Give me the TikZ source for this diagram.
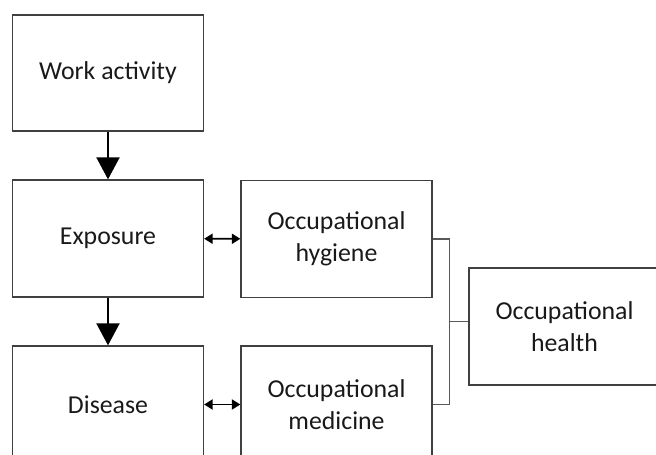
\documentclass[tikz,border=0pt]{standalone}
\usepackage{fontspec}
\setmainfont{Carlito}
\usetikzlibrary{arrows.meta,positioning,calc}
\tikzset{
  stage/.style={draw=black!75,line width=1.3pt,minimum width=191pt,minimum height=116pt,
    inner sep=0pt,align=center,font=\fontsize{25.8}{31.5}\selectfont,text=black!90},
  flow/.style={line width=2pt,-{Triangle[width=23pt,length=22pt]}},
  link/.style={line width=1.8pt,{Triangle[width=10pt,length=8.5pt]}-{Triangle[width=10pt,length=8.5pt]}},
  brace/.style={draw=black!65,line width=1.2pt}
}
\begin{document}
\begin{tikzpicture}[x=1pt,y=-1pt]
  \useasboundingbox (0,0) rectangle (656,455);
  \clip (0,0) rectangle (656,455);
  % left column
  \node[stage] (work) at (108,73) {Work activity};
  \node[stage,minimum height=117pt] (expo) at (108,238.5) {Exposure};
  \node[stage,minimum height=117pt] (dis) at (108,404.5) {Disease};
  % middle column
  \node[stage,minimum height=117pt] (hyg) at (336.5,239) {Occupational\\hygiene};
  \node[stage,minimum height=117pt] (med) at (336.5,404.5) {Occupational\\medicine};
  % right
  \node[stage,minimum height=117pt] (health) at (564.5,326.5) {Occupational\\health};
  \draw[flow] (work) -- (expo);
  \draw[flow] (expo) -- (dis);
  \draw[link] (expo) -- (hyg);
  \draw[link] (dis) -- (med);
  \draw[brace] (hyg.east) -- ++(17,0) coordinate (b1) |- (med.east);
  \coordinate (bm) at ($(b1)!0.5!(b1 |- med.east)$);
  \draw[brace] (bm) -- (bm -| health.west);
\end{tikzpicture}
\end{document}
